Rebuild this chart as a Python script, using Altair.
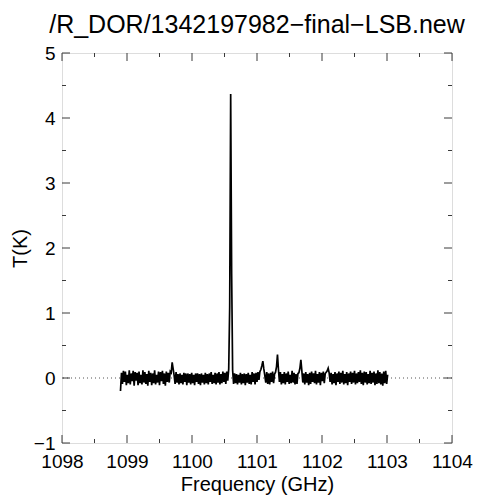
import altair as alt
import pandas as pd

f_start = 1098.90
f_step = 0.015
t_values = [
    -0.20, 0.08, -0.09, 0.11, -0.06, 0.10, -0.11, 0.05, -0.08, 0.12,
    -0.10, 0.07, -0.05, 0.11, -0.12, 0.09, -0.04, 0.08, -0.11, 0.10,
    -0.08, 0.05, -0.10, 0.12, -0.07, 0.09, -0.09, 0.06, -0.12, 0.11,
    -0.06, 0.08, -0.11, 0.07, -0.08, 0.12, -0.10, 0.05, -0.07, 0.10,
    -0.11, 0.09, -0.05, 0.11, -0.09, 0.07, -0.12, 0.10, -0.06, 0.08,
    -0.07, 0.10, 0.08, 0.24, 0.14, 0.04, -0.09, 0.09, -0.07, 0.06,
    -0.10, 0.07, -0.08, 0.05, -0.10, 0.08, -0.06, 0.07, -0.11, 0.07,
    -0.07, 0.06, -0.10, 0.08, -0.08, 0.05, -0.11, 0.07, -0.06, 0.07,
    -0.09, 0.06, -0.11, 0.07, -0.07, 0.05, -0.10, 0.08, -0.08, 0.06,
    -0.10, 0.07, -0.06, 0.09, -0.09, 0.05, -0.08, 0.08, -0.10, 0.07,
    -0.07, 0.09, -0.10, 0.06, -0.08, 0.10, -0.06, 0.08, -0.09, 0.10,
    -0.04, 0.14, 1.10, 4.37, 1.60, 0.12, -0.09, 0.07, -0.08, 0.06,
    -0.10, 0.05, -0.07, 0.08, -0.10, 0.06, -0.08, 0.07, -0.11, 0.06,
    -0.07, 0.08, -0.09, 0.05, -0.10, 0.09, -0.06, 0.07, -0.10, 0.08,
    -0.06, 0.09, -0.03, 0.10, 0.13, 0.19, 0.26, 0.14, 0.04, -0.07,
    0.09, -0.09, 0.07, -0.10, 0.08, -0.06, 0.10, -0.08, 0.06, 0.09,
    0.17, 0.36, 0.13, -0.06, 0.09, -0.10, 0.06, -0.08, 0.09, -0.10,
    0.07, -0.06, 0.10, -0.09, 0.05, -0.08, 0.11, -0.07, 0.08, -0.10,
    0.06, -0.09, 0.07, 0.08, 0.15, 0.28, 0.11, -0.07, 0.07, -0.10,
    0.09, -0.07, 0.06, -0.11, 0.08, -0.09, 0.10, -0.06, 0.07, -0.08,
    0.11, -0.10, 0.06, -0.07, 0.09, -0.11, 0.08, -0.05, 0.10, -0.08,
    0.07, 0.09, 0.11, 0.15, 0.08, -0.06, 0.08, -0.10, 0.06, -0.08,
    0.09, -0.11, 0.07, -0.06, 0.10, -0.09, 0.08, -0.07, 0.11, -0.10,
    0.06, -0.08, 0.09, -0.11, 0.07, -0.06, 0.10, -0.09, 0.08, -0.07,
    0.11, -0.10, 0.07, -0.08, 0.09, -0.06, 0.12, -0.09, 0.08, -0.11,
    0.10, -0.07, 0.09, -0.10, 0.06, -0.08, 0.11, -0.09, 0.08, -0.07,
    0.10, -0.11, 0.07, -0.09, 0.12, -0.08, 0.09, -0.10, 0.07, -0.12,
    0.10, -0.08, 0.11, -0.09, 0.05,
]
x_major = [1098, 1099, 1100, 1101, 1102, 1103, 1104]
x_minor = [1098.5, 1099.5, 1100.5, 1101.5, 1102.5, 1103.5]
y_major = [-1, 0, 1, 2, 3, 4, 5]
y_minor = [-0.5, 0.5, 1.5, 2.5, 3.5, 4.5]

spec = pd.DataFrame({
    "freq": [round(f_start + i * f_step, 4) for i in range(len(t_values))],
    "T": t_values,
})

FONT = "Liberation Sans"
FRAME = "#3a3a3a"
W = 390
H = 390

xscale = alt.Scale(domain=[1098, 1104], nice=False, zero=False)
yscale = alt.Scale(domain=[-1, 5], nice=False, zero=False)
xaxis = alt.Axis(values=x_major, format="d", title="Frequency (GHz)", grid=False,
                 ticks=False, tickSize=0, domain=False, labelFontSize=19,
                 labelFont=FONT, labelColor="black", labelPadding=9,
                 labelFlush=False, labelOverlap=False,
                 titleFont=FONT, titleFontSize=20, titleFontWeight="normal",
                 titleColor="black", titlePadding=3)
yaxis = alt.Axis(values=y_major, format="d", title="T(K)", grid=False,
                 ticks=False, tickSize=0, domain=False, labelFontSize=19,
                 labelFont=FONT, labelColor="black", labelPadding=7,
                 labelFlush=False, labelOverlap=False,
                 titleFont=FONT, titleFontSize=20, titleFontWeight="normal",
                 titleColor="black", titlePadding=3)

X = lambda: alt.X("freq:Q", scale=xscale, axis=xaxis)
Y = lambda: alt.Y("T:Q", scale=yscale, axis=yaxis)

line = alt.Chart(spec).mark_line(color="black", strokeWidth=1.7, clip=True).encode(
    x=X(), y=Y()
)

zero = alt.Chart(pd.DataFrame({"T": [0]})).mark_rule(
    color="#555555", strokeDash=[1, 3], strokeWidth=1
).encode(y=Y())

def xticks(vals, length):
    d = pd.DataFrame({"freq": vals})
    bottom = alt.Chart(d).mark_rule(color=FRAME, strokeWidth=1).encode(
        x=X(), y=alt.value(H), y2=alt.value(H - length))
    top = alt.Chart(d).mark_rule(color=FRAME, strokeWidth=1).encode(
        x=X(), y=alt.value(0), y2=alt.value(length))
    return [bottom, top]

def yticks(vals, length):
    d = pd.DataFrame({"T": vals})
    left = alt.Chart(d).mark_rule(color=FRAME, strokeWidth=1).encode(
        y=Y(), x=alt.value(0), x2=alt.value(length))
    right = alt.Chart(d).mark_rule(color=FRAME, strokeWidth=1).encode(
        y=Y(), x=alt.value(W), x2=alt.value(W - length))
    return [left, right]

layers = [zero, line] + xticks(x_major, 8) + xticks(x_minor, 4) + yticks(y_major, 8) + yticks(y_minor, 4)

chart = alt.layer(*layers).properties(
    width=W,
    height=H,
    title=alt.TitleParams("/R_DOR/1342197982\u2212final\u2212LSB.new", font=FONT,
                          fontSize=25, fontWeight="normal", color="black",
                          anchor="middle", offset=6),
    autosize=alt.AutoSizeParams(type="none"),
    padding={"left": 54, "top": 45, "right": 26, "bottom": 54},
).configure_view(stroke=FRAME, strokeWidth=1).configure(background="white")

chart.save("out.html", embed_options={"renderer": "svg", "actions": False})
